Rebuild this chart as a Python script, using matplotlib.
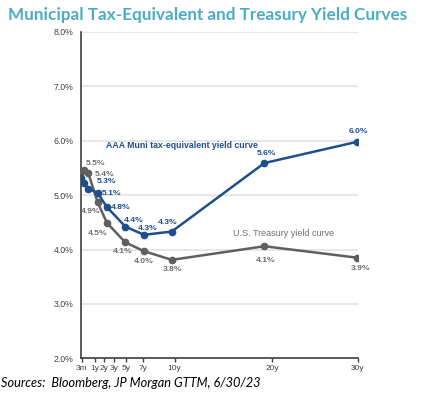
import matplotlib
matplotlib.use('Agg')
import matplotlib.pyplot as plt
from matplotlib.ticker import FuncFormatter

# maturities in years (3m, 6m, 1y ... 30y)
maturity = [0.25, 0.5, 1, 2, 3, 5, 7, 10, 20, 30]
muni_yield = [5.32, 5.22, 5.12, 5.04, 4.78, 4.42, 4.27, 4.33, 5.59, 5.98]
tsy_yield = [5.43, 5.47, 5.40, 4.87, 4.49, 4.13, 3.97, 3.81, 4.06, 3.85]

tick_labels = ['3m', '1y', '2y', '3y', '5y', '7y', '10y', '20y', '30y']

# which points carry a data label, and where the label sits (offset pixels)
muni_lbl = {0: (25, -4), 2: (23, -5), 4: (14, 0), 5: (8, 6), 6: (4, 6), 7: (-4, 9), 8: (2, 10), 9: (1, 10)}
tsy_lbl = {1: (12, 6), 2: (16, -1), 3: (-7, -9), 4: (-9, -11), 5: (-3, -9), 6: (0, -10), 7: (1, -10), 8: (1, -14), 9: (3, -11)}

# tick positions were spread out in the original so the short labels fit
tick_pos = [0.3, 1.7, 2.65, 3.75, 5.05, 6.95, 10.3, 20.85, 30.05]

blue = '#1F4E8C'
grey = '#5F5F5F'

fig = plt.figure(figsize=(4.27, 3.97), dpi=100)
ax = fig.add_axes([0.190, 0.0975, 0.648, 0.822])

ax.plot(maturity, tsy_yield, color=grey, lw=1.8, marker='o', ms=4.5, zorder=3)
ax.plot(maturity, muni_yield, color=blue, lw=1.8, marker='o', ms=4.5, zorder=4)

for i, (dx, dy) in muni_lbl.items():
    ax.annotate(f'{muni_yield[i]:.1f}%', (maturity[i], muni_yield[i]), xytext=(dx, dy),
                textcoords='offset pixels', ha='center', va='center',
                fontsize=6.1, fontweight='bold', color=blue, family='Liberation Sans', zorder=5)
for i, (dx, dy) in tsy_lbl.items():
    ax.annotate(f'{tsy_yield[i]:.1f}%', (maturity[i], tsy_yield[i]), xytext=(dx, dy),
                textcoords='offset pixels', ha='center', va='center',
                fontsize=6.1, fontweight='bold', color='#6E6E6E', family='Liberation Sans', zorder=5)

ax.text(2.85, 5.92, 'AAA Muni tax-equivalent yield curve', color=blue, fontsize=6.3,
        fontweight='bold', family='Liberation Sans', va='center')
ax.text(16.6, 4.29, 'U.S. Treasury yield curve', color='#6E6E6E', fontsize=6.5,
        family='Liberation Sans', va='center')

ax.set_xlim(0.22, 30.08)
ax.set_ylim(2, 8)
ax.set_yticks([2, 3, 4, 5, 6, 7, 8])
ax.yaxis.set_major_formatter(FuncFormatter(lambda v, p: f'{v:.1f}%'))
ax.set_xticks(tick_pos)
ax.set_xticklabels(tick_labels)
ax.grid(axis='y', color='#E3E3E3', lw=1.2, zorder=0)
ax.set_axisbelow(True)

for s in ['top', 'right']:
    ax.spines[s].set_visible(False)
for s in ['left', 'bottom']:
    ax.spines[s].set_color('#404040')
    ax.spines[s].set_linewidth(1.2)

ax.tick_params(axis='y', length=0, pad=5.5, labelsize=6.3, labelcolor='#404040')
ax.tick_params(axis='x', length=3, width=1, color='#404040', pad=2, labelsize=6, labelcolor='#404040')
for t in ax.get_xticklabels() + ax.get_yticklabels():
    t.set_family('Liberation Sans')

fig.text(0.019, 0.962, 'Municipal Tax-Equivalent and Treasury Yield Curves', color='#4BACC6',
         fontsize=12.3, fontweight='bold', family='Lato', va='center', ha='left')
fig.text(0.002, 0.035, 'Sources:  Bloomberg, JP Morgan GTTM, 6/30/23', color='black',
         fontsize=9.2, style='italic', family='Lato', va='center', ha='left')

fig.savefig('out.png', dpi=100)
